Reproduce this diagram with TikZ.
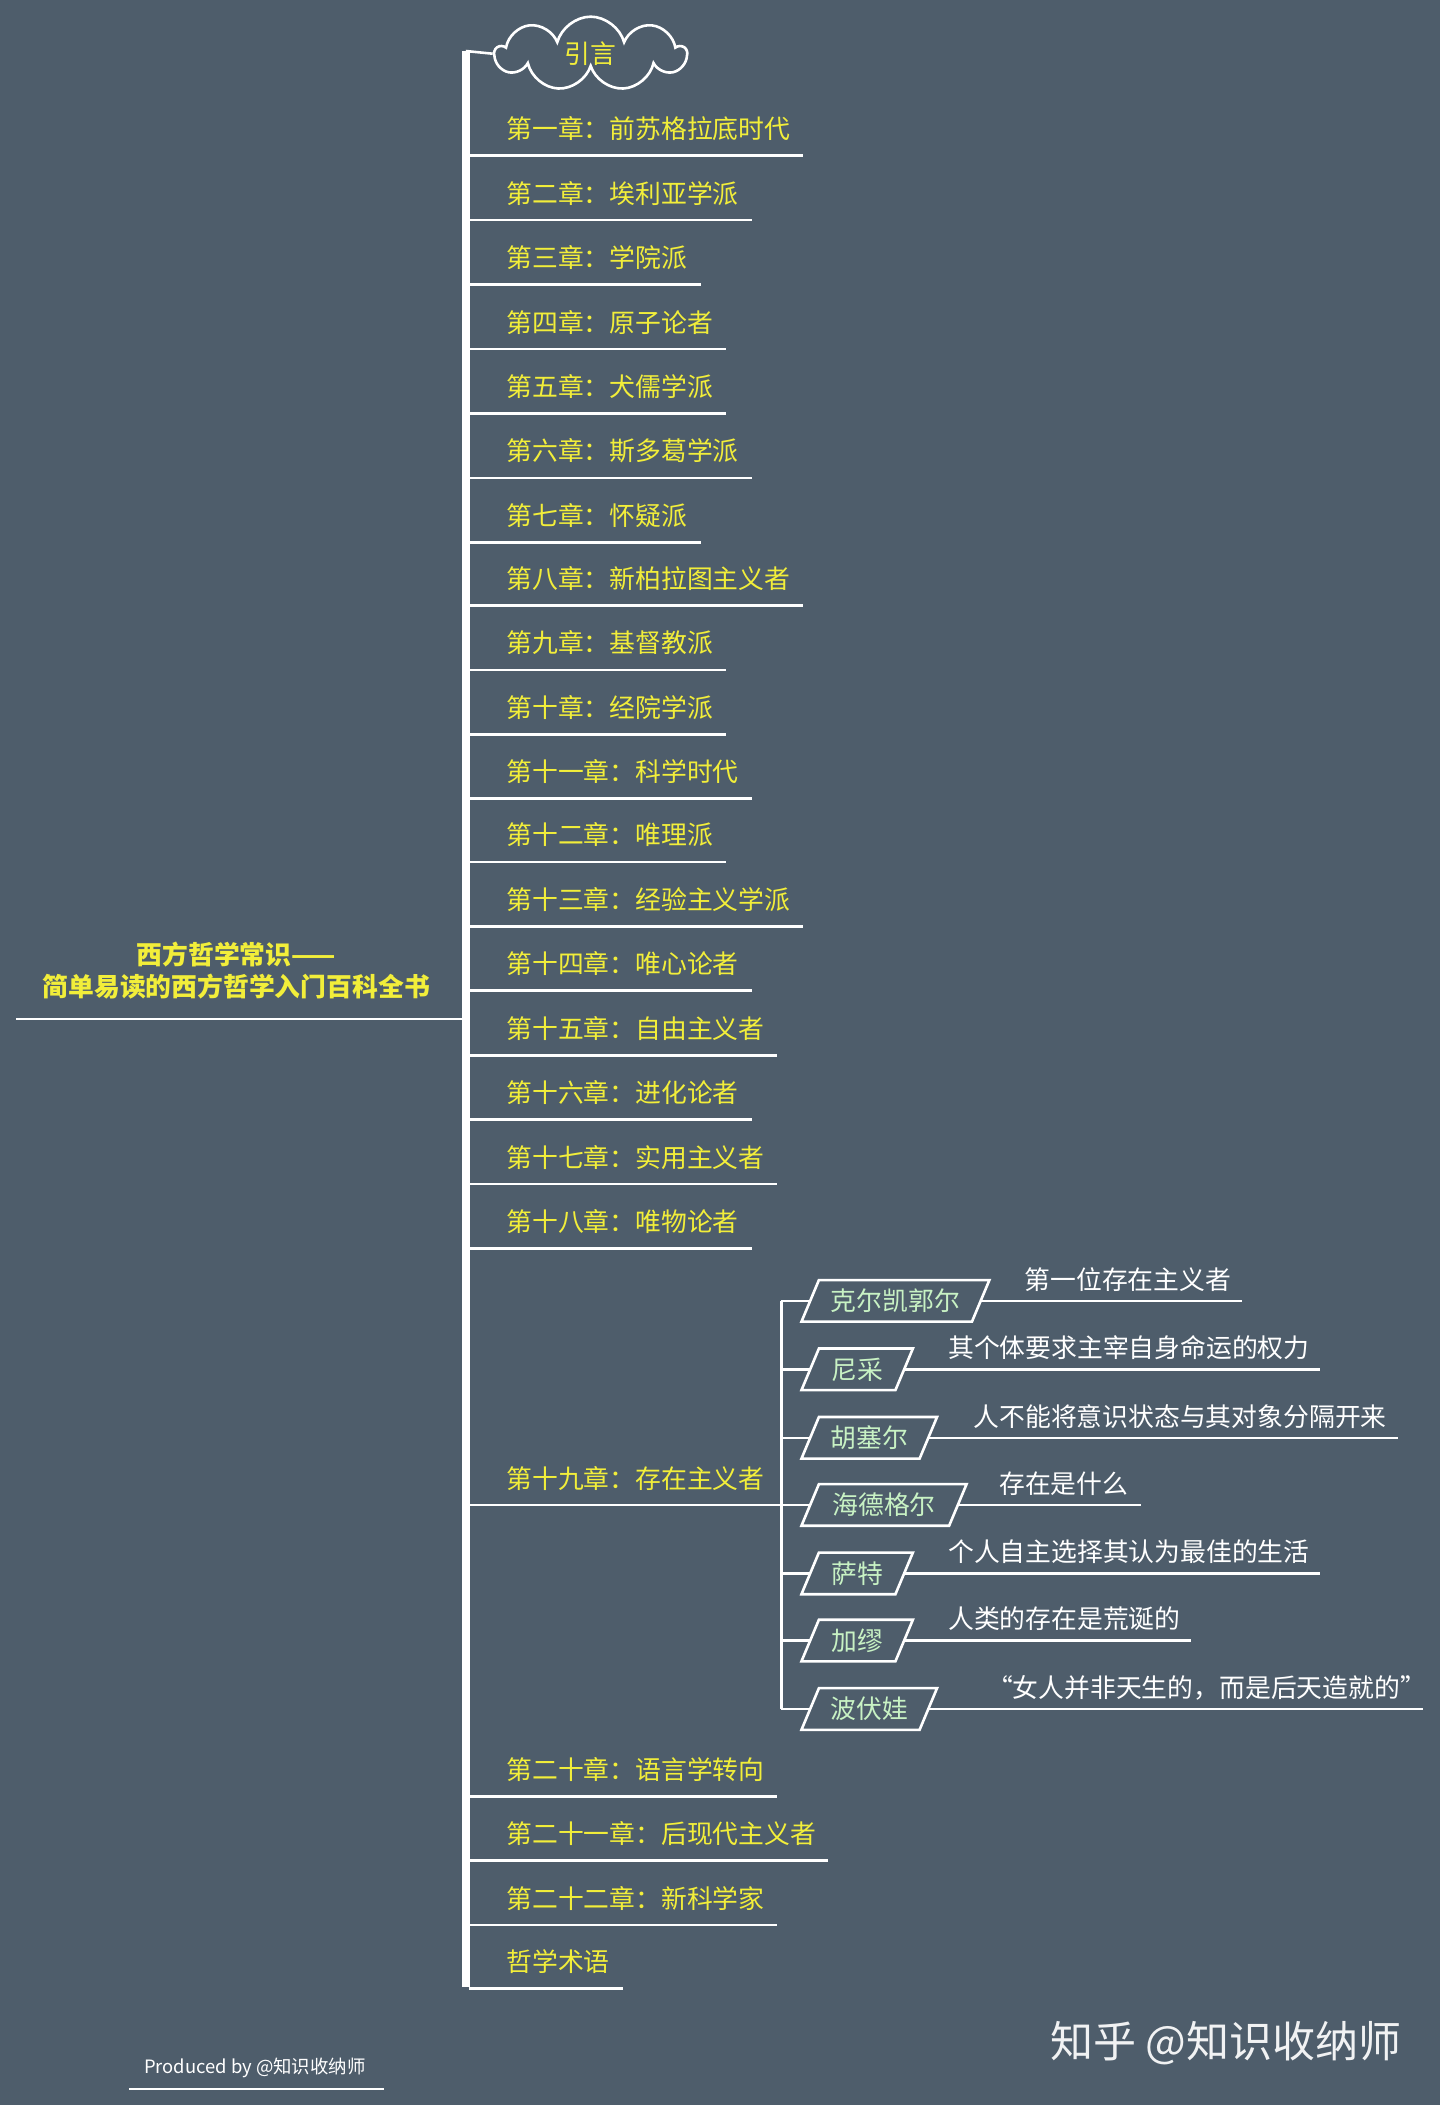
\documentclass[tikz,border=0pt]{standalone}
\usepackage{fontspec}
\setmainfont{Noto Sans CJK SC}
\usetikzlibrary{shapes.symbols}
\definecolor{bg}{HTML}{4E5D6B}
\definecolor{yel}{HTML}{F2EE3A}
\definecolor{grn}{HTML}{C8F2C4}
\tikzset{
 chap/.style={anchor=west,text=yel,font=\fontsize{12.9pt}{14pt}\selectfont,inner sep=0pt},
 ln/.style={draw=white,line width=1.3pt},
 pg/.style={text=grn,font=\fontsize{12.9pt}{14pt}\selectfont,inner sep=0pt},
 desc/.style={anchor=west,text=white,font=\fontsize{12.9pt}{14pt}\selectfont,inner sep=0pt},
}
\begin{document}
\begin{tikzpicture}[x=0.671pt,y=-0.671pt]
\fill[bg] (0,0) rectangle (1073,1568);
\useasboundingbox (0,0) rectangle (1073,1568);
% root
\node[text=yel,font=\bfseries\fontsize{12.9pt}{16pt}\selectfont,align=center] (root) at (176,723) {西方哲学常识——\\简单易读的西方哲学入门百科全书};
\coordinate (rl) at (12,759); \coordinate (rr) at (347,759);
\draw[ln] (rl) -- (rr);
% trunk
\coordinate (tt) at (347,38); \coordinate (tb) at (347,1480);
\draw[white,line width=4pt] (tt) -- (tb);
% cloud
\node[cloud,cloud puffs=9,aspect=3.6,draw=white,line width=1.3pt,minimum width=95pt,minimum height=27pt,inner sep=1pt,text=yel,font=\fontsize{12.9pt}{14pt}\selectfont] (intro) at (440,40) {引言};
\draw[ln] (tt) -- (intro.west);
% chapters
\foreach \i/\y/\e/\t in {1/96/598/第一章：前苏格拉底时代,2/144/560/第二章：埃利亚学派,3/192/522/第三章：学院派,4/240/541/第四章：原子论者,5/288/541/第五章：犬儒学派,6/336/560/第六章：斯多葛学派,7/384/522/第七章：怀疑派,8/431/598/第八章：新柏拉图主义者,9/479/541/第九章：基督教派,10/527/541/第十章：经院学派,11/575/560/第十一章：科学时代,12/622/541/第十二章：唯理派,13/670/598/第十三章：经验主义学派,14/718/560/第十四章：唯心论者,15/766/579/第十五章：自由主义者,16/814/560/第十六章：进化论者,17/862/579/第十七章：实用主义者,18/910/560/第十八章：唯物论者,20/1318/579/第二十章：语言学转向,21/1366/617/第二十一章：后现代主义者,22/1414/579/第二十二章：新科学家,23/1461/464/哲学术语}{
 \node[chap] (c\i) at (377,\y) {\t};
 \coordinate (s\i) at (349,\y+20); \coordinate (e\i) at (\e,\y+20);
 \draw[ln] (s\i) -- (e\i);
}
\node[chap] (c19) at (377,1101) {第十九章：存在主义者};
\coordinate (s19) at (349,1121); \coordinate (e19) at (582,1121);
\draw[ln] (s19) -- (e19);
\coordinate (bt) at (582,969); \coordinate (bb) at (582,1273);
\draw[ln] (bt) -- (bb);
\foreach \j/\y/\w/\n/\dx/\de/\d in {1/969/140/克尔凯郭尔/763/925/第一位存在主义者,2/1020/83/尼采/706/983/其个体要求主宰自身命运的权力,3/1071/101/胡塞尔/725/1041/人不能将意识状态与其对象分隔开来,4/1121/123/海德格尔/744/850/存在是什么,5/1172/83/萨特/706/983/个人自主选择其认为最佳的生活,6/1222/83/加缪/706/887/人类的存在是荒诞的,7/1273/101/波伏娃/735/1060/“女人并非天生的，而是后天造就的”}{
 \node[pg] (p\j) at (597+\w/2,\y) {\n};
 \draw[ln,line join=miter] (597,\y+15.5) -- (597+\w-13,\y+15.5) -- (597+\w,\y-15.5) -- (610,\y-15.5) -- cycle;
 \coordinate (bl\j) at (582,\y); \coordinate (pl\j) at (603.5,\y);
 \coordinate (pr\j) at (597+\w-6.5,\y);
 \draw[ln] (bl\j) -- (pl\j);
 \coordinate (de\j) at (\de,\y);
 \draw[ln] (pr\j) -- (de\j);
 \node[desc] (d\j) at (\dx,\y-16) {\d};
}
% footer
\node[anchor=west,text=white,font=\fontsize{9.2pt}{10pt}\selectfont,inner sep=0pt] (prod) at (107,1540) {Produced by @知识收纳师};
\coordinate (pl) at (96,1556); \coordinate (pr) at (286,1556);
\draw[ln] (pl) -- (pr);
\node[anchor=west,text=white!92!bg,font=\fontsize{21.5pt}{24pt}\selectfont,inner sep=0pt] (wm) at (782,1522) {知乎 @知识收纳师};
\end{tikzpicture}
\end{document}
